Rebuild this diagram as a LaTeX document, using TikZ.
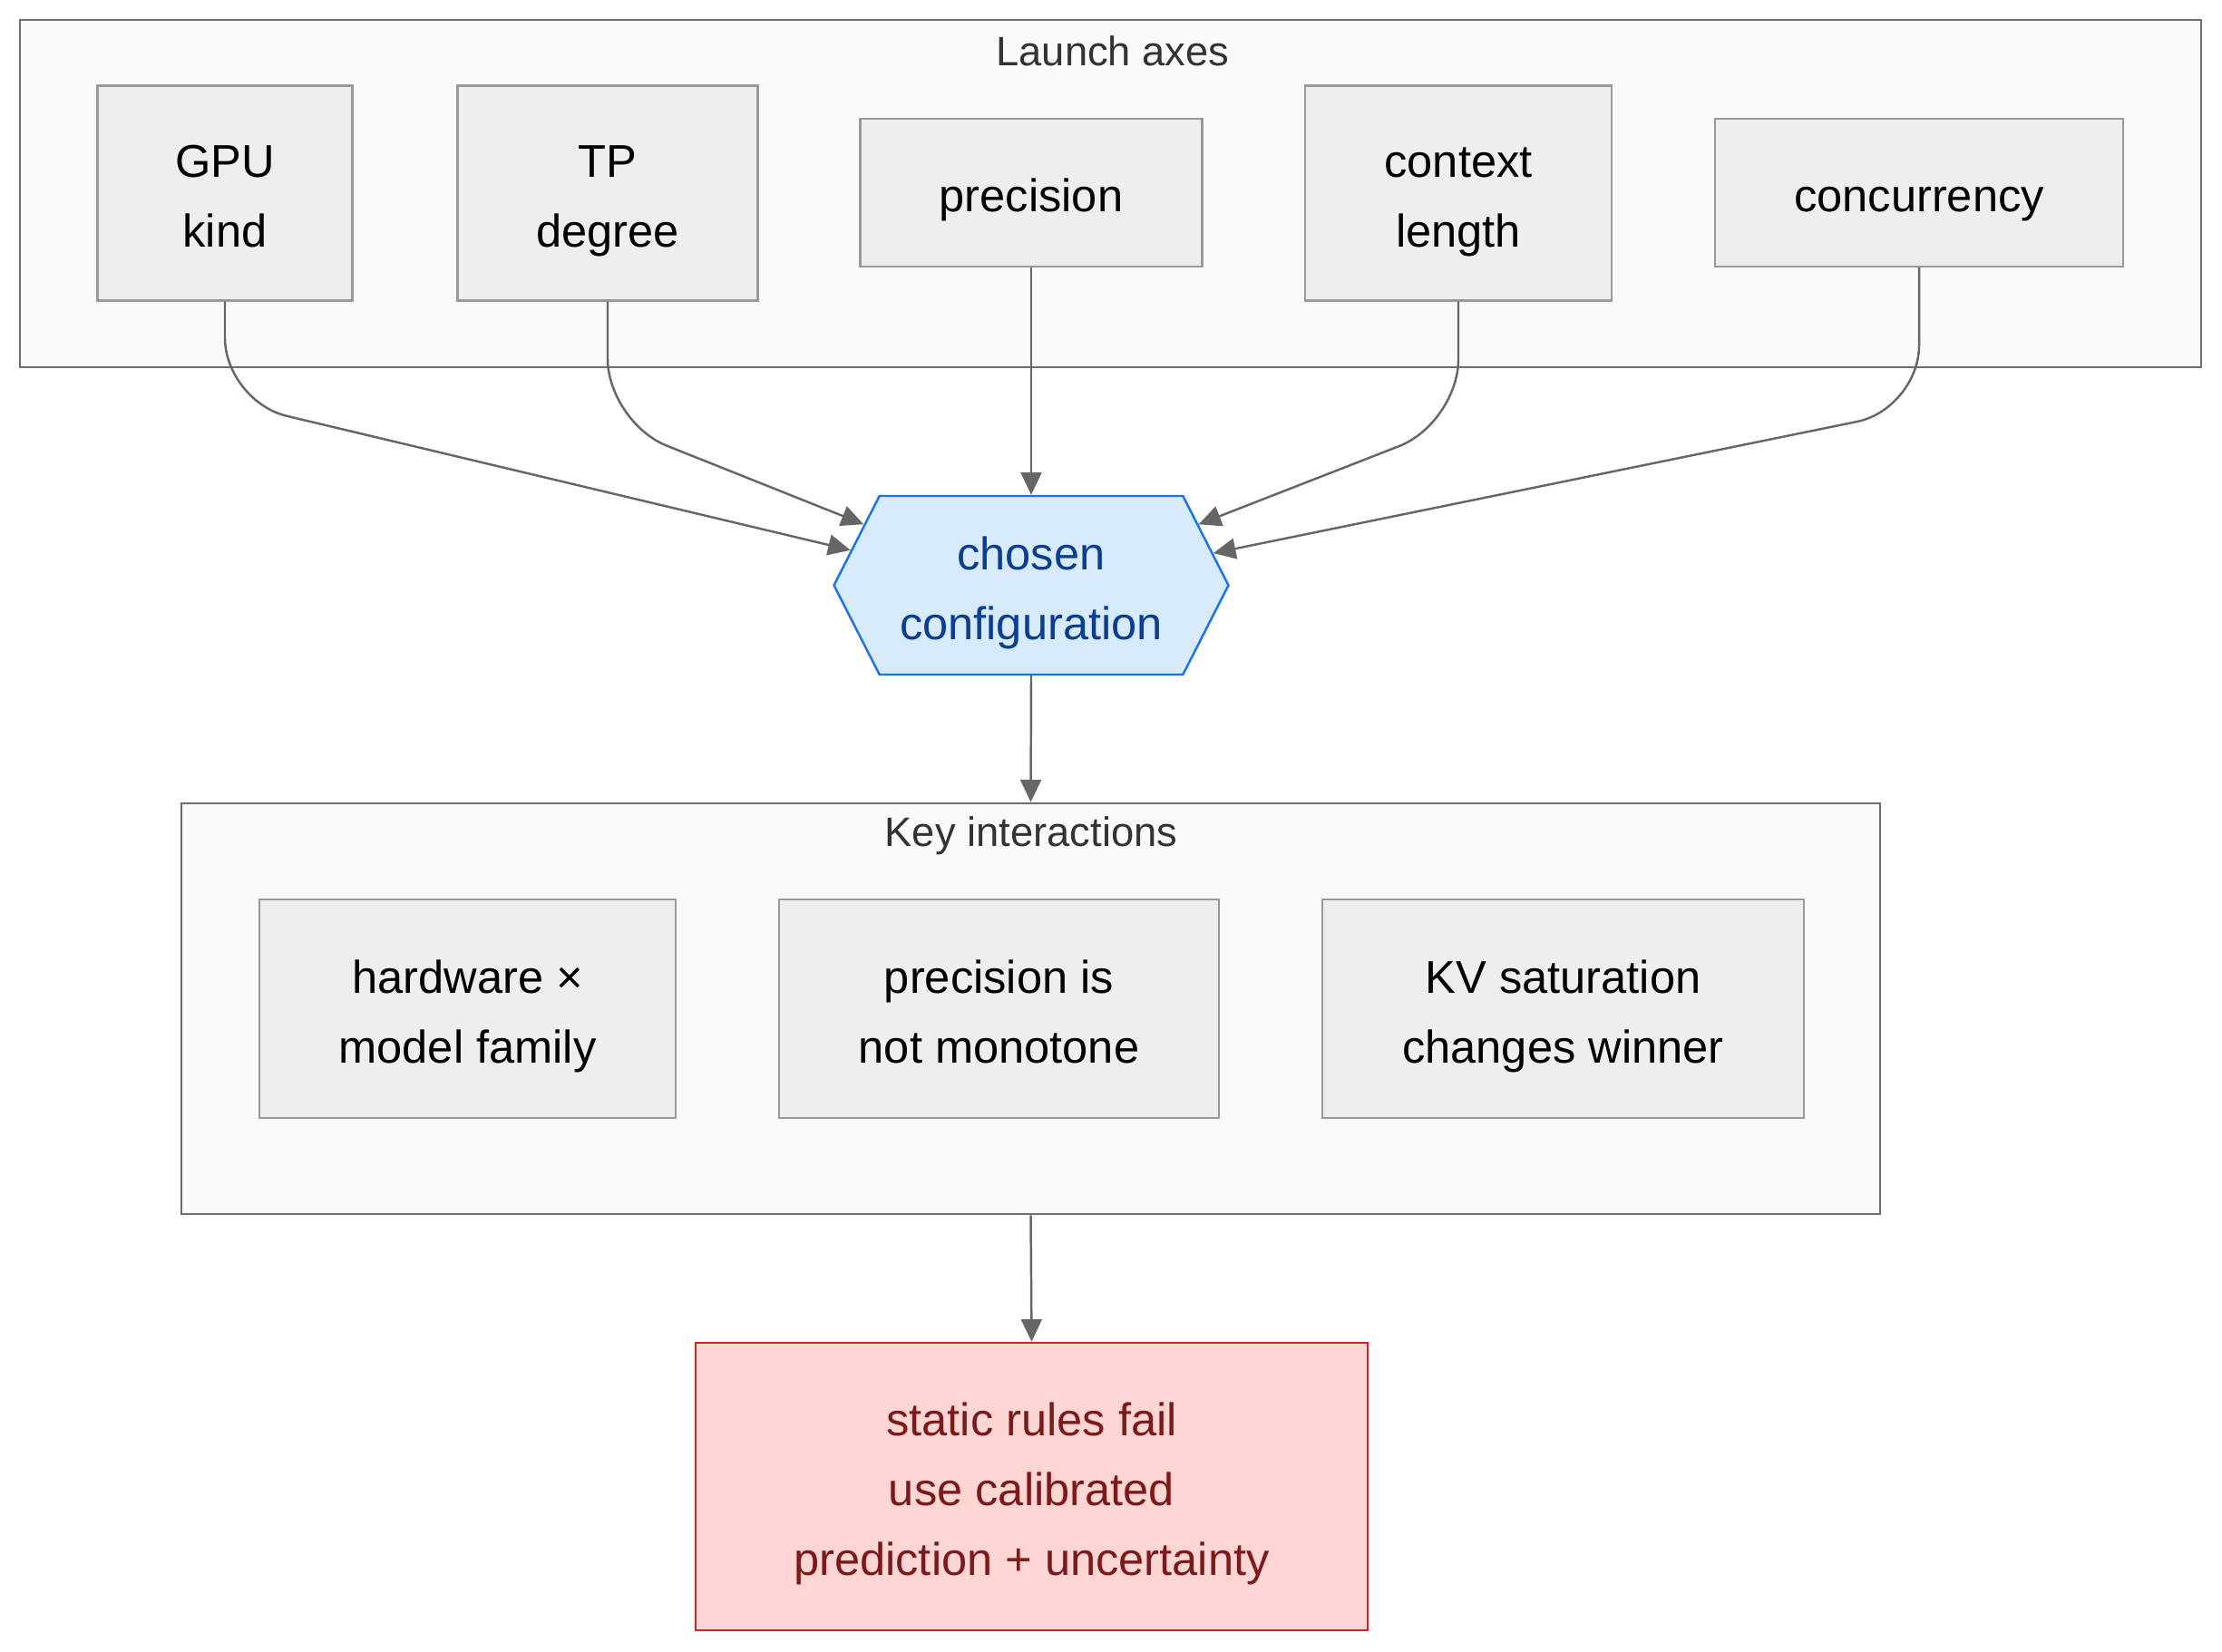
\documentclass[tikz,border=0pt]{standalone}
\usepackage{fontspec}
\setmainfont{Liberation Sans}
\usetikzlibrary{arrows.meta,shapes.symbols}
\definecolor{clusterfill}{HTML}{FAFAFA}
\definecolor{clusterline}{HTML}{6E6E6E}
\definecolor{boxfill}{HTML}{EEEEEE}
\definecolor{boxline}{HTML}{999999}
\definecolor{hexfill}{HTML}{D8EAFD}
\definecolor{hexline}{HTML}{1A73E8}
\definecolor{hextext}{HTML}{0B3D91}
\definecolor{redfill}{HTML}{FFD6D3}
\definecolor{redline}{HTML}{C62828}
\definecolor{redtext}{HTML}{7B1A1A}
\definecolor{edgecol}{HTML}{666666}
\newcommand{\ls}{\rule[-4.85pt]{0pt}{21.9pt}}
\tikzset{
  txt/.style={font=\fontsize{14.4pt}{21.9pt}\selectfont, align=center},
  cluster/.style={draw=clusterline, fill=clusterfill, line width=0.8pt, inner sep=0pt},
  clusterlabel/.style={font=\fontsize{12.9pt}{15pt}\selectfont, text=black!80},
  box/.style={txt, draw=boxline, fill=boxfill, line width=0.6pt, inner sep=0pt, minimum height=2.37cm},
  flatbox/.style={box, minimum height=1.63cm},
  hexnode/.style={txt, shape=signal, signal to=west and east, signal pointer angle=126,
    draw=hexline, fill=hexfill, text=hextext, line width=0.7pt, inner sep=0pt,
    minimum width=4.35cm, minimum height=1.97cm},
  redbox/.style={txt, draw=redline, fill=redfill, text=redtext, line width=0.7pt, inner sep=0pt,
    minimum width=7.41cm, minimum height=3.17cm},
  arr/.style={draw=edgecol, line width=0.7pt, -{Triangle[length=7pt, width=6.5pt]}, rounded corners=0.7cm}
}
\begin{document}
\begin{tikzpicture}
  \useasboundingbox (0,0) rectangle (24.5,-18.22);

  % Launch axes
  \node[cluster, minimum width=24.05cm, minimum height=3.83cm] (launch) at (12.245,-2.135) {};
  \node[clusterlabel] (launchlabel) at (12.27,-0.56) {Launch axes};
  \node[box, minimum width=2.81cm] (gpu) at (2.48,-2.13) {\ls GPU\\\ls kind};
  \node[box, minimum width=3.31cm] (tp) at (6.70,-2.13) {\ls TP\\\ls degree};
  \node[flatbox, minimum width=3.77cm] (prec) at (11.37,-2.125) {\ls precision};
  \node[box, minimum width=3.38cm] (ctx) at (16.08,-2.13) {\ls context\\\ls length};
  \node[flatbox, minimum width=4.50cm] (conc) at (21.16,-2.125) {\ls concurrency};

  \node[hexnode] (config) at (11.37,-6.455) {\ls chosen\\\ls configuration};

  % Key interactions
  \node[cluster, minimum width=18.73cm, minimum height=4.53cm] (keys) at (11.365,-11.125) {};
  \node[clusterlabel] (keyslabel) at (11.37,-9.22) {Key interactions};
  \node[box, minimum width=4.59cm, minimum height=2.41cm] (hw) at (5.155,-11.125) {\ls hardware ×\\\ls model family};
  \node[box, minimum width=4.85cm, minimum height=2.41cm] (mono) at (11.015,-11.125) {\ls precision is\\\ls not monotone};
  \node[box, minimum width=5.31cm, minimum height=2.41cm] (kv) at (17.235,-11.125) {\ls KV saturation\\\ls changes winner};

  \node[redbox] (static) at (11.375,-16.395) {\ls static rules fail\\\ls use calibrated\\\ls prediction + uncertainty};

  \draw[arr] (gpu.south) -- ++(0,-1.1) -- (config.169);
  \draw[arr] (tp.south) -- ++(0,-1.33) -- (config.160);
  \draw[arr] (prec.south) -- (config.north);
  \draw[arr] (ctx.south) -- ++(0,-1.34) -- (config.20);
  \draw[arr] (conc.south) -- ++(0,-1.56) -- (config.10);
  \draw[arr] (config.south) -- (keys.north);
  \draw[arr] (keys.south) -- (static.north);
\end{tikzpicture}
\end{document}
